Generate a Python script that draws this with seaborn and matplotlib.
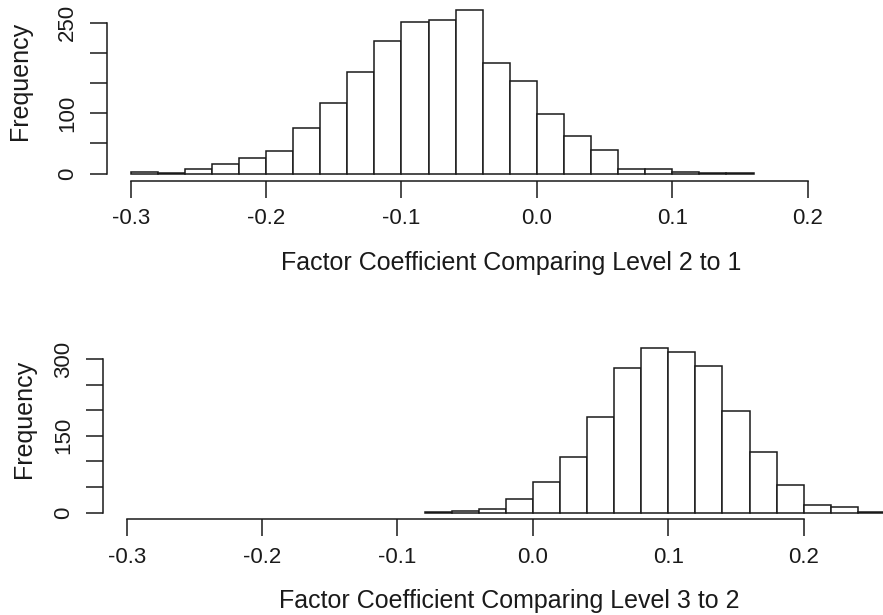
import numpy as np
import pandas as pd
import matplotlib
matplotlib.use("Agg")
import matplotlib.pyplot as plt
import seaborn as sns

# Bin layout (width 0.02) and counts for each coefficient histogram
bin_width = 0.02

level2_first_edge = -0.30
level2_counts = [2, 1, 7, 15, 25, 37, 76, 117, 168, 219, 252, 254, 271,
                 184, 153, 98, 63, 39, 8, 7, 2, 1, 1]

level3_first_edge = -0.08
level3_counts = [2, 3, 7, 27, 60, 109, 187, 283, 321, 314, 286, 199, 118,
                 54, 16, 11, 1]

x_ticks = [-0.3, -0.2, -0.1, 0.0, 0.1, 0.2]
x_tick_labels = ["-0.3", "-0.2", "-0.1", "0.0", "0.1", "0.2"]

top_y_ticks = [0, 50, 100, 150, 200, 250]
top_y_labels = ["0", "", "100", "", "", "250"]
bottom_y_ticks = [0, 50, 100, 150, 200, 250, 300]
bottom_y_labels = ["0", "", "", "150", "", "", "300"]

top_xlabel = "Factor Coefficient Comparing Level 2 to 1"
bottom_xlabel = "Factor Coefficient Comparing Level 3 to 2"
ylabel = "Frequency"

sns.set_style("ticks")
plt.rcParams["font.family"] = ["Liberation Sans", "DejaVu Sans"]
plt.rcParams["axes.unicode_minus"] = False

W, H = 883, 615
fig = plt.figure(figsize=(W / 100, H / 100), dpi=100)
fig.patch.set_facecolor("white")


def axes_px(left, top, right, bottom):
    return fig.add_axes([left / W, 1 - bottom / H, (right - left) / W, (bottom - top) / H])


def draw_hist(ax, first_edge, counts):
    n = len(counts)
    edges = (first_edge + bin_width * np.arange(n + 1)).round(4).tolist()
    centers = [(a + b) / 2 for a, b in zip(edges[:-1], edges[1:])]
    df = pd.DataFrame({"coef": centers, "count": counts})
    sns.histplot(data=df, x="coef", weights="count", bins=edges, ax=ax,
                 color="white", edgecolor="#1a1a1a", linewidth=1.1, alpha=1.0)


def style_axes(ax, yticks, ylabels, ytop):
    sns.despine(ax=ax)
    ax.set_facecolor("white")
    ax.grid(False)
    ax.spines["left"].set_bounds(0, ytop)
    ax.spines["bottom"].set_bounds(x_ticks[0], x_ticks[-1])
    for s in ("left", "bottom"):
        ax.spines[s].set_linewidth(1.1)
        ax.spines[s].set_color("#1a1a1a")
    ax.set_xticks(x_ticks)
    ax.set_xticklabels(x_tick_labels)
    ax.set_yticks(yticks)
    ax.set_yticklabels(ylabels, rotation=90, va="center")
    ax.tick_params(axis="both", direction="out", length=12.5, width=1.1,
                   color="#1a1a1a", labelsize=16, labelcolor="#1a1a1a")
    ax.tick_params(axis="x", pad=7.5)
    ax.tick_params(axis="y", pad=8)
    ax.set_xlabel("")
    ax.set_ylabel("")


# Upper panel: level 2 vs level 1
ax1 = axes_px(106.7, 0, 883, 180.5)
draw_hist(ax1, level2_first_edge, level2_counts)
ax1.set_xlim(-0.3177, -0.3 + (883 - 130.7) / 1354)
ax1.set_ylim(-7.0 / 0.603, 180.5 / 0.603 - 7.0 / 0.603)
style_axes(ax1, top_y_ticks, top_y_labels, 250)

# Lower panel: level 3 vs level 2
ax2 = axes_px(102.7, 330, 883, 519)
draw_hist(ax2, level3_first_edge, level3_counts)
ax2.set_xlim(-0.3177, -0.3 + (883 - 126.7) / 1354)
ax2.set_ylim(-6.3 / 0.5123, (512.7 - 330) / 0.5123)
style_axes(ax2, bottom_y_ticks, bottom_y_labels, 300)

label_font = dict(fontsize=18, color="#1a1a1a")
fig.text(510.8 / W, 1 - 270 / H, top_xlabel, ha="center", va="baseline", **label_font)
fig.text(509.2 / W, 1 - 608.3 / H, bottom_xlabel, ha="center", va="baseline", **label_font)
fig.text(20.3 / W, 1 - 81 / H, ylabel, rotation=90, ha="center", va="center", **label_font)
fig.text(24.5 / W, 1 - 419 / H, ylabel, rotation=90, ha="center", va="center", **label_font)

fig.savefig("out.png", dpi=100, facecolor="white")
